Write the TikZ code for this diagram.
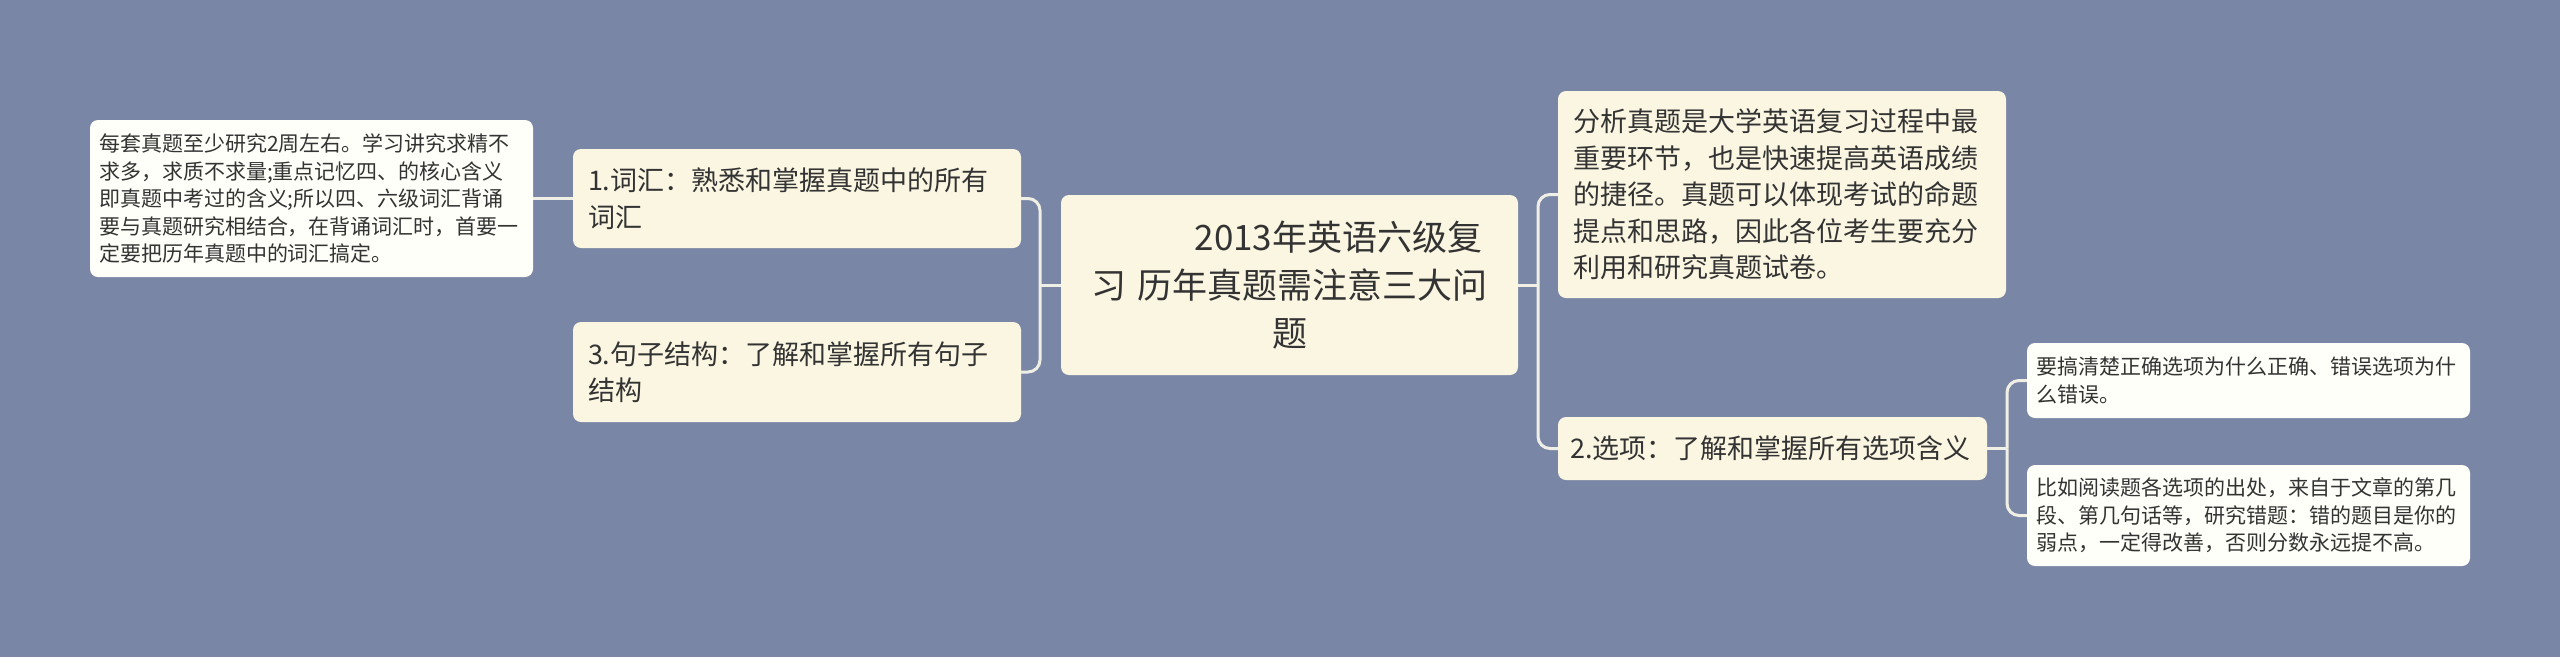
\documentclass[tikz,border=0pt]{standalone}
\usepackage{fontspec}
\setmainfont{Noto Sans CJK SC}
\definecolor{bgc}{HTML}{7A86A6}
\definecolor{cream}{HTML}{FAF6E2}
\definecolor{leafc}{HTML}{FFFFFA}
\definecolor{txt}{HTML}{333333}
\definecolor{linec}{HTML}{F0EFE6}
\tikzset{
  box/.style={draw=none, rounded corners=8pt, inner ysep=0pt, anchor=center, text=txt},
  lvl/.style={box, fill=cream, font=\fontsize{27pt}{36.5pt}\selectfont, align=left, inner xsep=15pt},
  leaf/.style={box, fill=leafc, font=\fontsize{21pt}{27.5pt}\selectfont, align=left, inner xsep=9pt},
  rootbox/.style={box, fill=cream, font=\fontsize{35pt}{48pt}\selectfont, align=center, inner xsep=15pt},
  conn/.style={draw=linec, line width=3pt, rounded corners=12pt}
}
\begin{document}
\begin{tikzpicture}[x=1pt,y=-1pt]
\fill[bgc] (0,0) rectangle (2560,657);
\useasboundingbox (0,0) rectangle (2560,657);

\node[rootbox, text width=427pt, minimum height=180pt] (root) at (1289.5,285)
  {\hspace*{98pt}2013年英语六级复\\习 历年真题需注意三大问\\题};

\node[lvl, text width=418pt, minimum height=99pt] (v1) at (797,198.5)
  {1.词汇：熟悉和掌握真题中的所有\\词汇};
\node[lvl, text width=418pt, minimum height=100pt] (v3) at (797,372)
  {3.句子结构：了解和掌握所有句子\\结构};
\node[leaf, text width=425pt, minimum height=157pt] (ll) at (311.5,198.5)
  {每套真题至少研究2周左右。学习讲究求精不\\求多，求质不求量;重点记忆四、的核心含义\\即真题中考过的含义;所以四、六级词汇背诵\\要与真题研究相结合，在背诵词汇时，首要一\\定要把历年真题中的词汇搞定。};

\node[lvl, text width=418pt, minimum height=207pt] (a) at (1782,194.5)
  {分析真题是大学英语复习过程中最\\重要环节，也是快速提高英语成绩\\的捷径。真题可以体现考试的命题\\提点和思路，因此各位考生要充分\\利用和研究真题试卷。};
\node[lvl, inner xsep=12pt, text width=405pt, minimum height=63pt] (v2) at (1772.5,448.5)
  {2.选项：了解和掌握所有选项含义};
\node[leaf, text width=425pt, minimum height=75pt] (la) at (2248.5,380.5)
  {要搞清楚正确选项为什么正确、错误选项为什\\么错误。};
\node[leaf, text width=425pt, minimum height=101pt] (lb) at (2248.5,515.5)
  {比如阅读题各选项的出处，来自于文章的第几\\段、第几句话等，研究错题：错的题目是你的\\弱点，一定得改善，否则分数永远提不高。};

\coordinate (jl) at (1040,285);
\coordinate (jr) at (1538,285);
\coordinate (jr2) at (2007,448.5);

\draw[conn] (root.west) -- (jl);
\draw[conn] (jl) |- (v1.east);
\draw[conn] (jl) |- (v3.east);
\draw[conn] (ll.east) -- (v1.west);

\draw[conn] (root.east) -- (jr);
\draw[conn] (jr) |- (a.west);
\draw[conn] (jr) |- (v2.west);

\draw[conn] (v2.east) -- (jr2);
\draw[conn] (jr2) |- (la.west);
\draw[conn] (jr2) |- (lb.west);
\end{tikzpicture}
\end{document}
